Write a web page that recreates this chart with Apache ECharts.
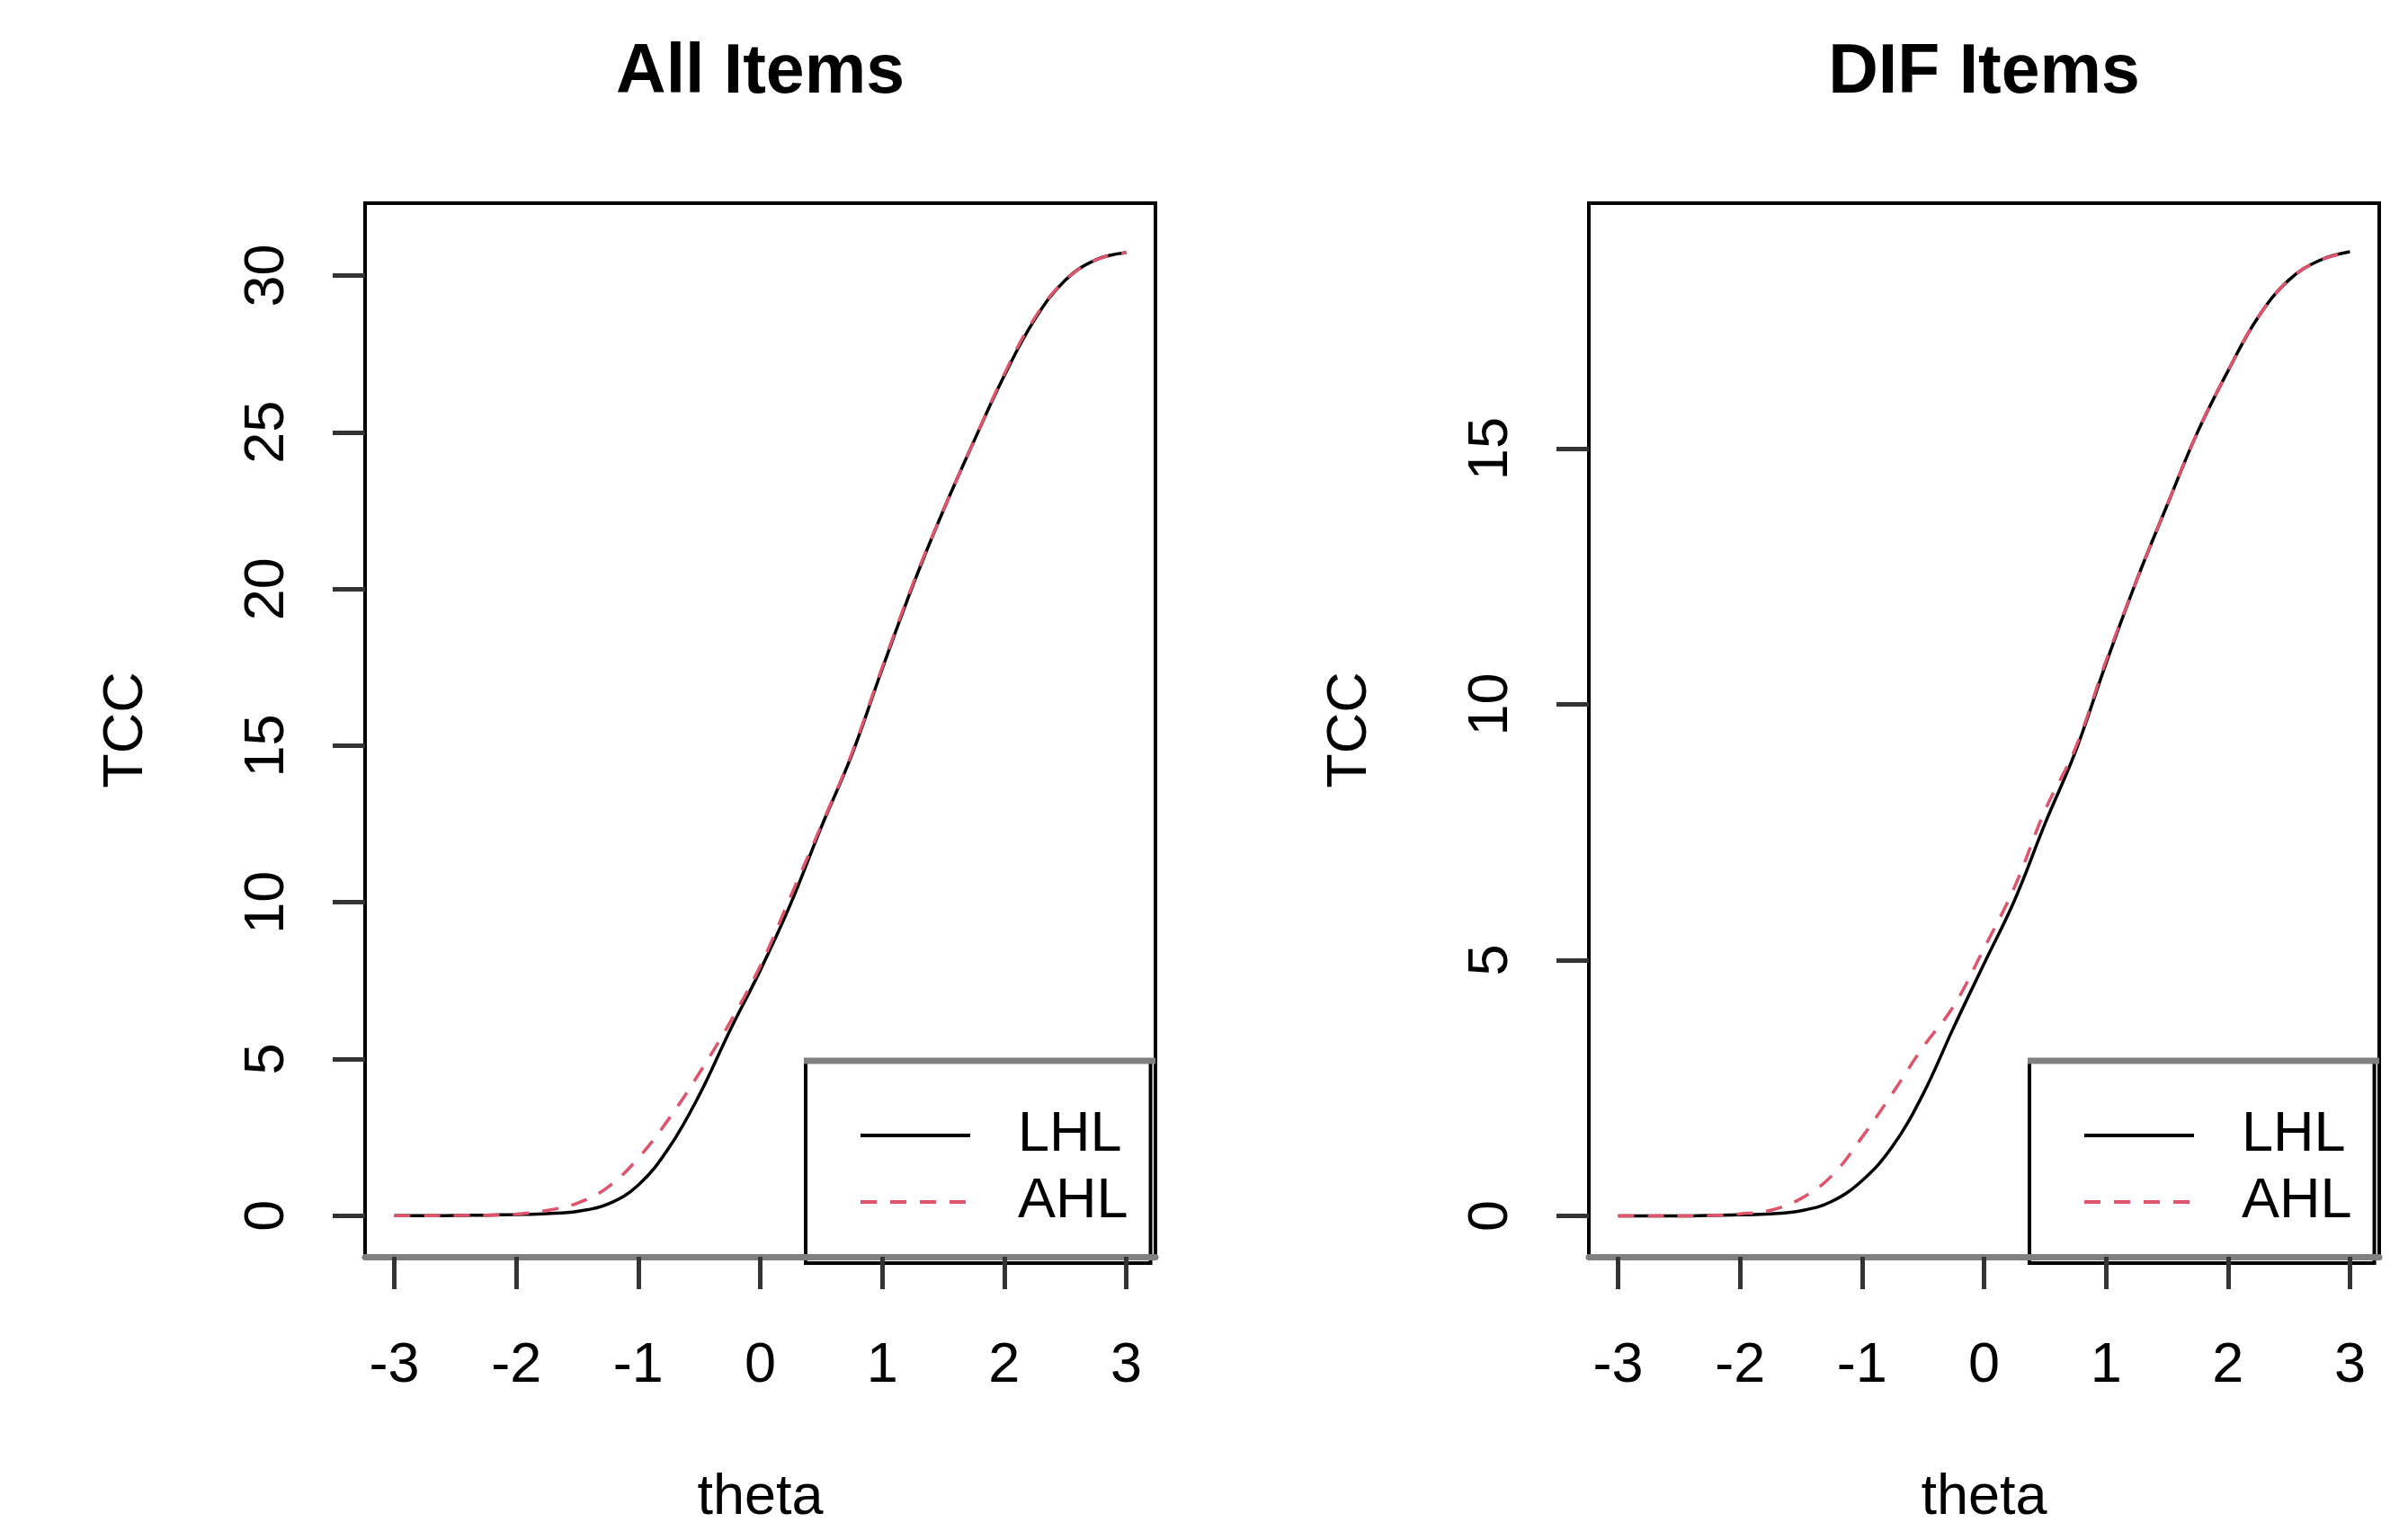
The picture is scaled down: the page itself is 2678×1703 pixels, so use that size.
<!DOCTYPE html>
<html><head><meta charset="utf-8">
<script src="https://cdn.jsdelivr.net/npm/echarts@6/dist/echarts.min.js"></script>
<style>html,body{margin:0;padding:0;background:#fff}#c{width:2678px;height:1703px}</style>
</head><body><div id="c"></div>
<script>
// theta grid (x values) shared by all curves
const thetaGrid = [-3,-2.75,-2.5,-2.25,-2,-1.75,-1.5,-1.25,-1,-0.75,-0.5,-0.25,0,0.25,0.5,0.75,1,1.25,1.5,1.75,2,2.25,2.5,2.75,3];
// All Items panel
const allLHL = [0,0,0.01,0.02,0.04,0.07,0.14,0.37,0.98,2.16,3.85,5.9,7.83,9.96,12.4,14.7,17.45,20.1,22.5,24.7,26.8,28.6,29.85,30.5,30.73];
const allAHL = [0,0,0.01,0.02,0.05,0.17,0.40,0.91,1.84,3.09,4.55,6.16,7.97,10.2,12.45,14.75,17.5,20.15,22.5,24.7,26.85,28.65,29.85,30.5,30.73];
// DIF Items panel
const difLHL = [0,0,0,0.01,0.02,0.04,0.10,0.28,0.69,1.36,2.38,3.68,4.93,6.17,7.67,9.08,10.8,12.42,13.89,15.32,16.52,17.58,18.3,18.68,18.85];
const difAHL = [0,0,0,0.01,0.04,0.11,0.34,0.78,1.54,2.40,3.30,4.10,5.23,6.43,7.93,9.15,10.85,12.42,13.89,15.32,16.52,17.58,18.3,18.68,18.85];
// tick labels
const xTicks = [-3,-2,-1,0,1,2,3];
const yTicksAll = [0,5,10,15,20,25,30];
const yTicksDif = [0,5,10,15];
const seriesNames = ['LHL','AHL'];
const panelTitles = ['All Items','DIF Items'];

const FONT = "'Liberation Sans', Arial, Helvetica, sans-serif";
const RED = '#DF536B';
const GW = 879, GH = 1180, GT = 226;
const panels = [
  {title: panelTitles[0], lhl: allLHL, ahl: allAHL, yTicks: yTicksAll, yMin: -1.31, yMax: 32.31, left: 406},
  {title: panelTitles[1], lhl: difLHL, ahl: difAHL, yTicks: yTicksDif, yMin: -0.80, yMax: 19.80, left: 1767}
];
const pairs = (ys) => thetaGrid.map((t, i) => [t, ys[i]]);

const grid = [], xAxis = [], yAxis = [], series = [], legend = [], graphic = [];
panels.forEach((p, i) => {
  grid.push({left: p.left, top: GT, width: GW, height: GH, show: true,
    borderColor: '#000', borderWidth: 4, backgroundColor: 'transparent'});
  xAxis.push({gridIndex: i, type: 'value', min: -3.24, max: 3.24, z: 5,
    axisLine: {show: true, onZero: false, lineStyle: {color: '#808080', width: 7}},
    axisTick: {show: true, customValues: xTicks, length: 36, lineStyle: {color: '#333', width: 5}},
    axisLabel: {customValues: xTicks, fontSize: 63, color: '#000', fontFamily: FONT, margin: 90},
    splitLine: {show: false},
    name: 'theta', nameLocation: 'middle', nameGap: 237,
    nameTextStyle: {fontSize: 63, color: '#000', fontFamily: FONT}});
  yAxis.push({gridIndex: i, type: 'value', min: p.yMin, max: p.yMax, position: 'left',
    axisLine: {show: false, onZero: false},
    axisTick: {show: true, customValues: p.yTicks, length: 36, lineStyle: {color: '#333', width: 5}},
    axisLabel: {customValues: p.yTicks, rotate: 90, fontSize: 63, color: '#000', fontFamily: FONT, margin: 77},
    splitLine: {show: false},
    name: 'TCC', nameLocation: 'middle', nameGap: 234, nameRotate: 90,
    nameTextStyle: {fontSize: 63, color: '#000', fontFamily: FONT}});
  series.push({name: seriesNames[0], type: 'line', xAxisIndex: i, yAxisIndex: i,
    data: pairs(p.lhl), symbol: 'none', smooth: 0.4,
    lineStyle: {color: '#000', width: 3.5, type: 'solid'}, itemStyle: {color: '#000'}, z: 2});
  series.push({name: seriesNames[1], type: 'line', xAxisIndex: i, yAxisIndex: i,
    data: pairs(p.ahl), symbol: 'none', smooth: 0.4,
    lineStyle: {color: RED, width: 3.5, type: [18, 15]}, itemStyle: {color: RED}, z: 3});
  legend.push({left: p.left + 490, top: 1180, orient: 'vertical', z: 1,
    padding: [46, 25, 31, 59], itemGap: 0, itemWidth: 122, itemHeight: 2,
    borderColor: '#000', borderWidth: 4, borderRadius: 0, backgroundColor: '#fff',
    selectedMode: false, data: seriesNames,
    itemStyle: {opacity: 0},
    lineStyle: {width: 4},
    textStyle: {fontSize: 63, lineHeight: 74, color: '#000', fontFamily: FONT, padding: [0, 0, 0, 48]}});
  graphic.push({type: 'text', x: p.left + GW / 2, y: 82, z: 10,
    style: {text: p.title, fill: '#000', font: 'bold 77px ' + FONT,
      align: 'center', verticalAlign: 'middle', textAlign: 'center', textVerticalAlign: 'middle'}});
  graphic.push({type: 'line', z: 10,
    shape: {x1: p.left + 488, y1: 1180, x2: p.left + GW, y2: 1180},
    style: {stroke: '#808080', lineWidth: 7}});
});

const chart = echarts.init(document.getElementById('c'), null, {renderer: 'canvas'});
chart.setOption({
  backgroundColor: '#fff', animation: false,
  grid, xAxis, yAxis, series, legend, graphic
});
</script>
</body></html>
